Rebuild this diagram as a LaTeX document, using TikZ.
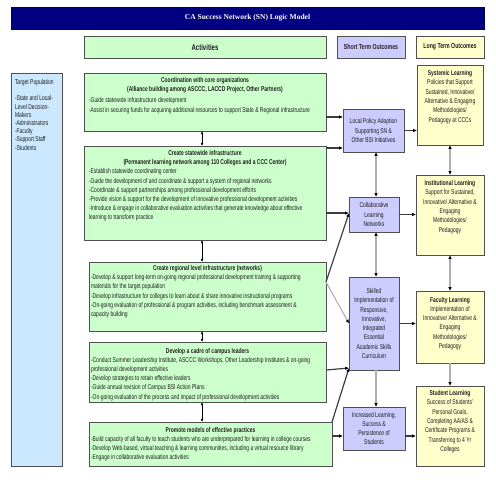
\documentclass[tikz,border=0pt]{standalone}
\usepackage{fontspec}
\setmainfont[FakeStretch=0.71]{Liberation Sans}
\newfontfamily\titlefont{Liberation Serif}
\usetikzlibrary{arrows.meta,calc}
\definecolor{navy}{RGB}{0,0,128}
\definecolor{actgreen}{RGB}{204,255,204}
\definecolor{stlav}{RGB}{204,204,255}
\definecolor{ltyel}{RGB}{255,255,204}
\definecolor{tgblue}{RGB}{204,232,255}
\definecolor{edge}{RGB}{80,80,80}
\definecolor{txt}{RGB}{30,30,30}
\definecolor{darkline}{RGB}{60,60,60}
\definecolor{lightline}{RGB}{175,175,175}
\begin{document}
\begin{tikzpicture}[x=1pt,y=-1pt,
  every node/.style={font=\fontsize{7}{9.2}\selectfont, text=txt},
  boxbase/.style={draw=edge, line width=0.7pt, anchor=north west, inner sep=0pt, outer sep=0pt},
  actbox/.style={boxbase, fill=actgreen},
  stbox/.style={boxbase, fill=stlav, align=center, font=\fontsize{7}{9.3}\selectfont},
  ltbox/.style={boxbase, fill=ltyel},
  tgbox/.style={boxbase, fill=tgblue},
  hdr/.style={boxbase, font=\bfseries\fontsize{7.3}{9}\selectfont},
  blackdbl/.style={line width=0.6pt, black, {Latex[length=3.2pt,width=2.8pt]}-{Latex[length=3.2pt,width=2.8pt]}},
  darkarr/.style={line width=1.2pt, darkline, -{Latex[length=3.8pt,width=3.4pt,color=black]}},
  lightarr/.style={line width=1.1pt, lightline, -{Latex[length=3.8pt,width=3.4pt,color=black]}},
  lightdbl/.style={line width=1.1pt, lightline, {Latex[length=3.8pt,width=3.4pt,color=black]}-{Latex[length=3.8pt,width=3.4pt,color=black]}},
]
\useasboundingbox (0,0) rectangle (495,495);

% title and headers
\node[boxbase, fill=navy, draw=navy!60!black, minimum width=473pt, minimum height=22pt,
      font=\titlefont\bfseries\fontsize{7.5}{9}\selectfont, text=white] (title) at (11,7) {CA Success Network (SN) Logic Model};
\node[hdr, fill=actgreen, minimum width=242pt, minimum height=22pt, font=\bfseries\fontsize{8.5}{10}\selectfont] (hact) at (84,36) {Activities};
\node[hdr, fill=stlav, minimum width=68pt, minimum height=22pt] (hst) at (337,36) {Short Term Outcomes};
\node[hdr, fill=ltyel, minimum width=68pt, minimum height=22pt] (hlt) at (416,36) {Long Term Outcomes};

% target population
\node[tgbox] (tg) at (11,73) {\parbox[c][393pt][t]{51pt}{\fontsize{7}{8.2}\selectfont\vspace*{6.4pt}\raggedright\leftskip=4pt
Target Population\\[8.2pt]-State and Local-\\Level Decision-\\Makers\\-Administrators\\-Faculty\\-Support Staff\\-Students\par}};

% activities
\node[actbox] (a1) at (84,73) {\parbox[c][58pt][t]{242pt}{\vspace*{4.5pt}\centering
\textbf{Coordination with core organizations}\\\textbf{(Alliance building among ASCCC, LACCD Project, Other Partners)}\par
\vspace{2pt}\raggedright\leftskip=5pt
-Guide statewide infrastructure development\\
-Assist in securing funds for acquiring additional resources to support State \& Regional infrastructure\par}};

\node[actbox] (a2) at (84,146) {\parbox[c][94pt][t]{242pt}{\vspace*{4.5pt}\centering
\textbf{Create statewide infrastructure}\\\textbf{(Permanent learning network among 110 Colleges and a CCC Center)}\par
\raggedright\leftskip=5pt
-Establish statewide coordinating center\\
-Guide the development of and coordinate \& support a system of regional networks\\
-Coordinate \& support partnerships among professional development efforts\\
-Provide vision \& support for the development of innovative professional development activities\\
-Introduce \& engage in collaborative evaluation activities that generate knowledge about effective\\
learning to transform practice\par}};

\node[actbox] (a3) at (89,262) {\parbox[c][69pt][t]{237pt}{\vspace*{3.5pt}\centering
\textbf{Create regional level infrastructure (networks)}\par
\raggedright\leftskip=2pt
-Develop \& support long-term on-going regional professional development training \& supporting\\
materials for the target population\\
-Develop infrastructure for colleges to learn about \& share innovative instructional programs\\
-On-going evaluation of professional \& program activities, including benchmark assessment \&\\
capacity building\par}};

\node[actbox] (a4) at (89,342) {\parbox[c][60pt][t]{237pt}{\vspace*{6pt}\centering
\textbf{Develop a cadre of campus leaders}\par
\raggedright\leftskip=2pt
-Conduct Summer Leadership Institute, ASCCC Workshops, Other Leadership Institutes \& on-going\\
professional development activities\\
-Develop strategies to retain effective leaders\\
-Guide annual revision of Campus BSI Action Plans\\
-On-going evaluation of the process and impact of professional development activities\par}};

\node[actbox] (a5) at (89,422) {\parbox[c][44pt][t]{243pt}{\vspace*{5pt}\centering
\textbf{Promote models of effective practices}\par
\raggedright\leftskip=2pt
-Build capacity of all faculty to teach students who are underprepared for learning in college courses\\
-Develop Web-based, virtual teaching \& learning communities, including a virtual resource library\\
-Engage in collaborative evaluation activities\par}};

% short term outcomes
\node[stbox, minimum width=61pt, minimum height=43pt] (s1) at (343,109) {Local Policy Adoption\\Supporting SN \&\\Other BSI Initiatives};
\node[stbox, minimum width=50pt, minimum height=35pt] (s2) at (349,197) {Collaborative\\Learning\\Networks};
\node[stbox, minimum width=50pt, minimum height=93pt] (s3) at (349,277) {Skilled\\Implementation of\\Responsive,\\Innovative,\\Integrated\\Essential\\Academic Skills\\Curriculum};
\node[stbox, minimum width=62pt, minimum height=43pt] (s4) at (343,407) {Increased Learning,\\Success \&\\Persistence of\\Students};

% long term outcomes
\node[ltbox] (l1) at (417,65) {\parbox[c][80pt][t]{66pt}{\fontsize{7}{9.3}\selectfont\vspace*{5.5pt}\centering
\textbf{Systemic Learning}\\Policies that Support\\Sustained, Innovative/\\Alternative \& Engaging\\Methodologies/\\Pedagogy at CCCs\par}};
\node[ltbox] (l2) at (416,175) {\parbox[c][80pt][t]{68pt}{\fontsize{7}{9.3}\selectfont\vspace*{5.5pt}\centering
\textbf{Institutional Learning}\\Support for Sustained,\\Innovative/ Alternative \&\\Engaging\\Methodologies/\\Pedagogy\par}};
\node[ltbox] (l3) at (416,291) {\parbox[c][72pt][t]{68pt}{\fontsize{7}{9.3}\selectfont\vspace*{6pt}\centering
\textbf{Faculty Learning}\\Implementation of\\Innovative/ Alternative \&\\Engaging\\Methodologies/\\Pedagogy\par}};
\node[ltbox] (l4) at (416,386) {\parbox[c][80pt][t]{68pt}{\fontsize{7}{9.3}\selectfont\vspace*{4.5pt}\centering
\textbf{Student Learning}\\Success of Students'\\Personal Goals,\\Completing AA/AS \&\\Certificate Programs \&\\Transferring to 4 Yr\\Colleges\par}};

% activity vertical links
\coordinate (v1a) at ([xshift=118pt]a1.south west);
\coordinate (v1b) at ([xshift=118pt]a2.north west);
\coordinate (v2a) at ([xshift=118pt]a2.south west);
\coordinate (v2b) at ([xshift=113pt]a3.north west);
\coordinate (v3a) at ([xshift=113pt]a3.south west);
\coordinate (v3b) at ([xshift=113pt]a4.north west);
\coordinate (v4a) at ([xshift=113pt]a4.south west);
\coordinate (v4b) at ([xshift=113pt]a5.north west);
\draw[blackdbl] (v1a) -- (v1b);
\draw[blackdbl] (v2a) -- (v2b);
\draw[blackdbl] (v3a) -- (v3b);
\draw[blackdbl] (v4a) -- (v4b);

% activities -> short term
\coordinate (p1) at ([yshift=-44pt]a1.north east);
\coordinate (p2) at ([yshift=-2pt]a2.north east);
\coordinate (p3) at ([yshift=-67pt]a2.north east);
\coordinate (p4) at ([yshift=-20pt]a3.north east);
\coordinate (p5) at ([yshift=-28pt]a4.north east);
\coordinate (p6) at (a5.north east);
\coordinate (p7) at ([yshift=-14pt]a5.north east);
\coordinate (c3) at ([yshift=2pt]s3.south west);
\draw[darkarr] (p1) -- (p1 -| s1.west);
\draw[darkarr] (p2) -- (p2 -| s1.west);
\draw[darkarr] (p3) -- (p3 -| s2.west);
\draw[darkarr] (p4) -- (p3 -| s2.west);
\draw[lightarr] (p4) -- (s3.west);
\draw[darkarr] (p5) -- (c3);
\draw[darkarr] (p6) -- (c3);
\draw[darkarr] (p7) -- (p7 -| s4.west);

% short term verticals
\coordinate (qx) at (376,0);
\draw[lightdbl] (s1.south -| qx) -- (s2.north -| qx);
\draw[lightdbl] (s2.south -| qx) -- (s3.north -| qx);
\draw[lightarr] (s3.south -| qx) -- (s4.north -| qx);

% short -> long
\coordinate (p8) at ([yshift=-29pt]s4.north east);
\draw[darkarr] (s1.east) -- (s1.east -| l1.west);
\draw[darkarr] (s2.east) -- (s2.east -| l2.west);
\draw[darkarr] (s3.east) -- (s3.east -| l3.west);
\draw[darkarr] (p8) -- (p8 -| l4.west);

% long term verticals
\draw[lightdbl] (l1.south) -- (l2.north);
\draw[lightdbl] (l2.south) -- (l3.north);
\draw[lightarr] (l3.south) -- (l4.north);
\end{tikzpicture}
\end{document}
